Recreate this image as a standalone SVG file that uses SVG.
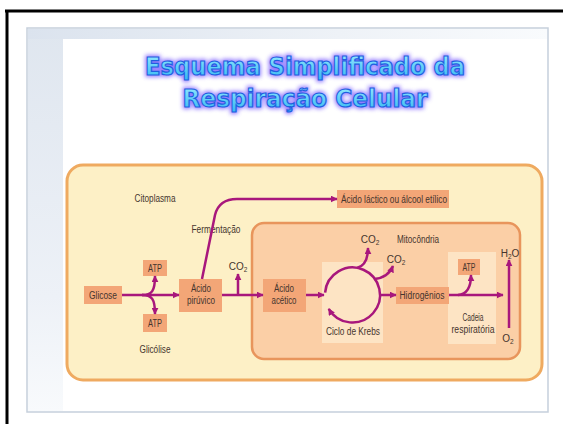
<svg xmlns="http://www.w3.org/2000/svg" width="563" height="424" viewBox="0 0 563 424">
<defs>
<linearGradient id="leftBand" x1="0" y1="0" x2="0" y2="1"><stop offset="0" stop-color="#dfe6ef"/><stop offset="0.7" stop-color="#edf1f7"/><stop offset="1" stop-color="#f8fafc"/></linearGradient>
<linearGradient id="topBand" x1="0" y1="0" x2="1" y2="0"><stop offset="0" stop-color="#dbe3ee"/><stop offset="0.6" stop-color="#eef2f7"/><stop offset="1" stop-color="#f9fbfd"/></linearGradient>
<linearGradient id="titleFill" x1="0" y1="0" x2="0" y2="1"><stop offset="0" stop-color="#9cecff"/><stop offset="1" stop-color="#2fb6f2"/></linearGradient>
<filter id="glow" x="-10%" y="-40%" width="120%" height="180%"><feGaussianBlur stdDeviation="2.2"/></filter>
<marker id="ah" viewBox="0 0 10 10" refX="9" refY="5" markerWidth="7" markerHeight="7" markerUnits="userSpaceOnUse" orient="auto"><path d="M0,0 L10,5 L0,10 z" fill="#a8177c"/></marker>
<style>
.box{fill:#f3a677}
.panel{fill:#fde4c4}
.lbl{font-family:"Liberation Sans","DejaVu Sans",sans-serif;font-size:10px;fill:#45352e;text-anchor:middle}
.sub{font-size:6.5px}
.arr{fill:none;stroke:#a8177c;stroke-width:2.5}
.t{font-family:"DejaVu Sans","Liberation Sans",sans-serif;font-weight:bold;font-size:25px;text-anchor:middle}
</style>
</defs>
<rect x="0" y="0" width="563" height="424" fill="#ffffff"/>
<line x1="5" y1="11" x2="563" y2="11" stroke="#000" stroke-width="3"/>
<line x1="7" y1="10" x2="7" y2="424" stroke="#000" stroke-width="3"/>
<g id="slide">
<rect x="27" y="28" width="521" height="384" fill="#fbfcfe" stroke="#c6d0dc" stroke-width="1.5"/>
<rect x="28" y="29" width="35" height="382" fill="url(#leftBand)"/>
<rect x="28" y="29" width="519" height="10" fill="url(#topBand)"/>
<rect x="63" y="39" width="484" height="372" fill="#ffffff"/>
</g>
<g id="title">
<g filter="url(#glow)" stroke="#7a5cff" stroke-width="4" fill="#7a5cff" opacity="0.8">
<text class="t" x="305" y="75" textLength="320" lengthAdjust="spacingAndGlyphs">Esquema Simplificado da</text>
<text class="t" x="305" y="107" textLength="245" lengthAdjust="spacingAndGlyphs">Respiração Celular</text>
</g>
<g fill="url(#titleFill)" stroke="#1f5fe0" stroke-width="1.2">
<text class="t" x="305" y="75" textLength="320" lengthAdjust="spacingAndGlyphs">Esquema Simplificado da</text>
<text class="t" x="305" y="107" textLength="245" lengthAdjust="spacingAndGlyphs">Respiração Celular</text>
</g>
</g>
<g id="citoplasma">
<rect x="67" y="165" width="475" height="215" rx="16" fill="#fdf0c6" stroke="#efaa60" stroke-width="3"/>
<text class="lbl" x="155" y="202" textLength="41" lengthAdjust="spacingAndGlyphs">Citoplasma</text>
</g>
<g id="mitocondria">
<rect x="252" y="223" width="268" height="136" rx="12" fill="#fbcfa6" stroke="#e8955c" stroke-width="2.5"/>
<text class="lbl" x="418" y="243" textLength="42" lengthAdjust="spacingAndGlyphs">Mitocôndria</text>
</g>
<g id="krebs">
<rect class="panel" x="322" y="262" width="61" height="81"/>
<text class="lbl" x="353" y="335" textLength="54" lengthAdjust="spacingAndGlyphs">Ciclo de Krebs</text>
</g>
<g id="cadeia">
<rect class="panel" x="448" y="252" width="48" height="92"/>
<text class="lbl" x="473" y="321" textLength="21" lengthAdjust="spacingAndGlyphs">Cadeia</text>
<text class="lbl" x="473" y="333" textLength="43" lengthAdjust="spacingAndGlyphs">respiratória</text>
</g>
<g id="glicose"><rect class="box" x="84" y="286" width="38" height="18"/><text class="lbl" x="103" y="298.5" textLength="28" lengthAdjust="spacingAndGlyphs">Glicose</text></g>
<g id="atp1"><rect class="box" x="143" y="260" width="24" height="16"/><text class="lbl" x="155" y="271.5" textLength="14" lengthAdjust="spacingAndGlyphs">ATP</text></g>
<g id="atp2"><rect class="box" x="143" y="314" width="24" height="18"/><text class="lbl" x="155" y="326.5" textLength="14" lengthAdjust="spacingAndGlyphs">ATP</text></g>
<g id="glicolise"><text class="lbl" x="155" y="353" textLength="31" lengthAdjust="spacingAndGlyphs">Glicólise</text></g>
<g id="piruvico"><rect class="box" x="179" y="279" width="43" height="33"/><text class="lbl" x="201" y="292" textLength="20" lengthAdjust="spacingAndGlyphs">Ácido</text><text class="lbl" x="201" y="304" textLength="28" lengthAdjust="spacingAndGlyphs">pirúvico</text></g>
<g id="fermentacao"><text class="lbl" x="216" y="233" textLength="49" lengthAdjust="spacingAndGlyphs">Fermentação</text></g>
<g id="lactico"><rect class="box" x="337" y="190" width="112" height="18"/><text class="lbl" x="394" y="202.5" textLength="106" lengthAdjust="spacingAndGlyphs">Ácido láctico ou álcool etílico</text></g>
<g id="co2a"><text class="lbl" x="238" y="270">CO<tspan class="sub" dy="2">2</tspan></text></g>
<g id="acetico"><rect class="box" x="263" y="279" width="43" height="33"/><text class="lbl" x="284" y="292" textLength="20" lengthAdjust="spacingAndGlyphs">Ácido</text><text class="lbl" x="284" y="304" textLength="25" lengthAdjust="spacingAndGlyphs">acético</text></g>
<g id="co2b"><text class="lbl" x="370" y="243">CO<tspan class="sub" dy="2">2</tspan></text></g>
<g id="co2c"><text class="lbl" x="396" y="263">CO<tspan class="sub" dy="2">2</tspan></text></g>
<g id="hidrogenios"><rect class="box" x="396" y="287" width="53" height="17"/><text class="lbl" x="422" y="298.5" textLength="45" lengthAdjust="spacingAndGlyphs">Hidrogênios</text></g>
<g id="atp3"><rect class="box" x="458" y="259" width="22" height="16"/><text class="lbl" x="469" y="270.5" textLength="13" lengthAdjust="spacingAndGlyphs">ATP</text></g>
<g id="h2o"><text class="lbl" x="510" y="257">H<tspan class="sub" dy="2">2</tspan><tspan dy="-2">O</tspan></text></g>
<g id="o2"><text class="lbl" x="508" y="342">O<tspan class="sub" dy="2">2</tspan></text></g>
<g id="connectors">
<path class="arr" d="M122 295 H179" marker-end="url(#ah)"/>
<path class="arr" d="M142 295 C152 295 155 291 155 276" marker-end="url(#ah)"/>
<path class="arr" d="M142 295 C152 295 155 299 155 314" marker-end="url(#ah)"/>
<path class="arr" d="M202 279 L215 215 Q219 199 237 199 H337" marker-end="url(#ah)"/>
<path class="arr" d="M222 295 H263" marker-end="url(#ah)"/>
<path class="arr" d="M238 295 V274" marker-end="url(#ah)"/>
<path class="arr" d="M306 295 H324" marker-end="url(#ah)"/>
<path class="arr" d="M325.1 292.6 A27.5 27.5 0 1 1 328.7 308.8" marker-end="url(#ah)"/>
<path class="arr" d="M357 268 Q368 265 368 248" marker-end="url(#ah)"/>
<path class="arr" d="M374 279 Q388 278 393 266" marker-end="url(#ah)"/>
<path class="arr" d="M380 295 H396" marker-end="url(#ah)"/>
<path class="arr" d="M449 295 H503" marker-end="url(#ah)"/>
<path class="arr" d="M458 295 Q471 294 471 275" marker-end="url(#ah)"/>
<path class="arr" d="M509 328 V260" marker-end="url(#ah)"/>
</g>
</svg>
